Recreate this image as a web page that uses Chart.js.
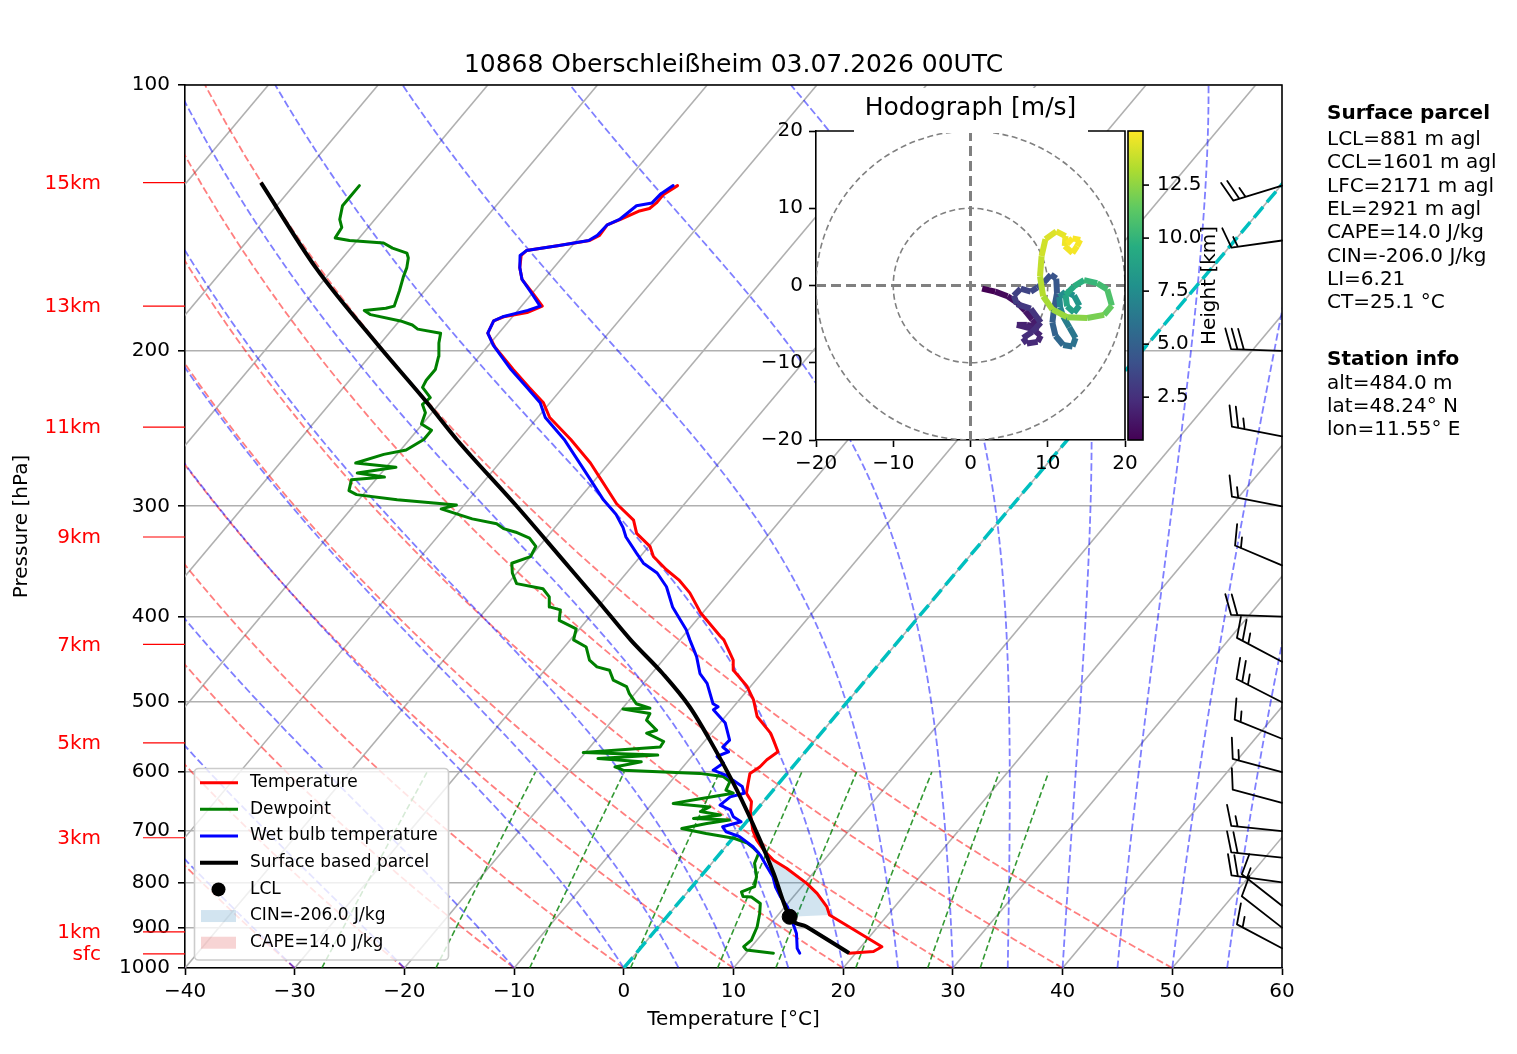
<!DOCTYPE html>
<html lang="de">
<head>
<meta charset="utf-8">
<title>10868 Oberschleißheim 03.07.2026 00UTC</title>
<script src="https://cdn.jsdelivr.net/npm/chart.js@4.4.1/dist/chart.umd.min.js"></script>
<style>
  html, body { margin: 0; padding: 0; background: #fff; }
  #page { position: relative; width: 1517px; height: 1054px; overflow: hidden; }
  #skewt { position: absolute; left: 0; top: 0; }
  #hodo { position: absolute; left: 740px; top: 85px; }
</style>
</head>
<body>
<div id="page">
  <canvas id="skewt" width="1517" height="1054"></canvas>
  <canvas id="hodo" width="500" height="400"></canvas>
</div>
<script>
// Sounding values (pressure in hPa, temperature in °C)
const tempPressure = [962, 958, 946, 914, 871, 852, 823, 802, 771, 755, 735, 716, 698, 668, 648, 634, 618, 602, 592, 581,
  569, 552, 542, 519, 497, 480, 460, 448, 425, 421, 396, 376, 364, 354, 342, 333, 322, 311, 298, 278,
  268, 252, 238, 229, 220, 210, 198, 191, 185, 183, 181, 178, 172, 166, 161, 156, 154, 152, 150, 148,
  144, 142, 139, 138, 136, 133, 130];
const tempValues = [19.4, 21.5, 21.9, 18.9, 14.7, 13.8, 11.9, 10.2, 7.2, 5.4, 3.7, 2.3, 1.2, -0.3, -1.1, -2.2, -2.8, -3.4, -3.0, -2.9,
  -2.5, -3.8, -4.6, -7.1, -8.7, -10.3, -12.8, -13.6, -16.0, -16.6, -20.2, -22.7, -24.6, -26.6, -28.8, -29.9, -32.1, -33.4, -36.2, -39.8,
  -41.7, -45.3, -48.9, -50.6, -53.1, -55.9, -59.3, -61.0, -61.4, -60.8, -59.0, -58.1, -60.0, -62.0, -63.1, -63.9, -63.8, -61.2, -58.8, -58.3,
  -58.4, -57.6, -56.6, -55.8, -55.6, -55.6, -55.0];

const dewPressure = [962, 954, 946, 930, 898, 867, 845, 831, 830, 820, 809, 788, 761, 741, 732, 722, 713, 704, 695, 686,
  680, 677, 671, 665, 657, 651, 643, 634, 629, 615, 607, 602, 597, 592, 584, 579, 574, 570, 562, 554,
  542, 538, 524, 515, 509, 508, 502, 489, 480, 472, 460, 456, 448, 433, 425, 413, 404, 393, 390, 380,
  372, 367, 357, 348, 342, 333, 326, 321, 318, 314, 310, 306, 302, 299, 295, 291, 288, 280, 278, 275,
  271, 268, 262, 259, 252, 246, 242, 235, 230, 226, 220, 216, 210, 203, 196, 191, 189, 187, 185, 182,
  180, 179, 178, 171, 165, 161, 157, 155, 153, 151, 150, 149, 145, 142, 137, 134, 130];
const dewValues = [12.5, 9.8, 9.3, 9.5, 9.0, 8.2, 7.5, 6.2, 5.4, 4.9, 5.7, 5.1, 3.9, 3.5, 2.7, 1.7, 0.1, -2.8, -5.4, -3.5,
  -1.7, -5.1, -2.9, -5.0, -4.5, -8.1, -6.0, -3.4, -4.3, -4.6, -5.6, -8.0, -15.2, -16.2, -14.2, -18.4, -13.2, -20.2, -13.6, -13.7,
  -15.9, -15.2, -16.9, -17.1, -19.9, -17.5, -19.1, -20.5, -21.3, -23.0, -24.1, -25.5, -26.7, -28.0, -29.7, -30.3, -32.5, -33.2, -34.4, -35.2,
  -36.4, -39.2, -40.4, -41.2, -40.0, -40.3, -41.5, -43.2, -44.6, -45.6, -48.2, -50.0, -51.8, -50.7, -56.5, -60.6, -61.6, -62.2, -59.4, -62.2,
  -59.1, -63.1, -61.2, -59.5, -58.7, -58.7, -60.1, -60.6, -61.5, -61.3, -62.8, -63.0, -63.0, -63.7, -64.7, -65.3, -67.7, -68.5, -69.9, -73.1,
  -74.0, -72.2, -71.6, -72.3, -73.0, -73.4, -74.0, -74.5, -76.2, -77.4, -80.7, -82.2, -82.4, -83.2, -84.0, -84.0, -84.0];

const wetBulbPressure = [962, 950, 914, 890, 852, 830, 809, 788, 768, 745, 729, 710, 701, 692, 683, 674, 662, 654, 640, 634,
  623, 613, 605, 597, 586, 576, 569, 562, 552, 528, 510, 506, 502, 476, 464, 444, 425, 414, 390, 370,
  357, 348, 339, 325, 317, 306, 295, 280, 271, 252, 238, 229, 220, 210, 197, 191, 185, 183, 180, 178,
  172, 166, 161, 156, 154, 152, 150, 148, 144, 142, 137, 136, 133, 130];
const wetBulbValues = [14.9, 14.3, 13.1, 12.0, 10.2, 8.8, 7.6, 6.6, 5.3, 3.8, 2.5, 0.5, -1.1, -1.8, -0.5, -1.6, -2.4, -3.7, -3.4, -2.4,
  -3.1, -4.4, -5.4, -7.0, -6.6, -7.7, -7.0, -7.9, -7.8, -9.5, -11.6, -11.4, -12.1, -14.2, -15.6, -17.2, -19.1, -20.2, -23.2, -25.3,
  -27.2, -29.2, -30.6, -32.8, -33.8, -35.5, -37.7, -40.4, -42.1, -45.9, -49.3, -50.9, -53.3, -56.1, -59.6, -61.0, -61.4, -60.9, -59.1, -58.3,
  -60.1, -62.0, -63.1, -64.0, -63.8, -61.2, -58.9, -58.5, -58.4, -57.7, -57.2, -56.0, -55.9, -55.4];

const parcelPressure = [962, 898, 875, 781, 716, 629, 552, 506, 464, 425, 383, 345, 300, 252, 229, 196, 161, 129];
const parcelTemp = [19.4, 13.5, 11.2, 6.4, 2.6, -3.3, -9.6, -14.0, -19.0, -24.5, -30.6, -36.8, -45.1, -55.7, -61.2, -70.4, -81.7, -93.2];
const lclPressure = 875;
const lclTemp = 11.2;
const cinTop = 735;      // CIN shading between LCL and where parcel meets the environment
const cinBottom = 875;

// Wind barbs (direction wind comes from, speed in kt)
const barbPressure = [130, 150, 200, 250, 300, 350, 400, 450, 500, 550, 600, 650, 700, 750, 800, 850, 900, 950];
const barbDirection = [253, 262, 272, 281, 281, 293, 272, 298, 297, 292, 285, 285, 276, 276, 278, 308, 308, 298];
const barbSpeed = [25, 15, 30, 25, 15, 15, 20, 25, 25, 15, 15, 10, 15, 20, 20, 15, 10, 15];

// Hodograph (height in km, wind components in m/s)
const hodoHeight = [0.48, 0.8, 1.0, 1.2, 1.4, 1.6, 1.7, 1.8, 1.9, 2.0, 2.1, 2.2, 2.3, 2.4, 2.5, 2.7, 2.9, 3.1, 3.3, 3.5,
  3.7, 3.9, 4.1, 4.3, 4.5, 4.7, 4.9, 5.1, 5.4, 5.7, 6.0, 6.3, 6.6, 6.9, 7.2, 7.5, 7.8, 8.1, 8.4, 8.7,
  9.0, 9.3, 9.7, 10.1, 10.5, 10.9, 11.5, 12.0, 12.4, 12.8, 13.1, 13.4, 13.7, 14.0, 14.3, 14.5, 14.7, 14.8, 14.85, 14.9,
  14.95, 15.0, 15.05];
const hodoU = [1.5, 3.2, 4.8, 6.0, 7.1, 8.0, 8.9, 7.3, 6.0, 8.0, 9.1, 8.7, 7.3, 6.8, 8.0, 9.1, 7.8, 6.0, 5.6, 6.5,
  7.8, 8.6, 9.5, 10.4, 11.1, 11.2, 10.8, 10.6, 11.0, 12.0, 13.2, 13.6, 12.8, 12.0, 11.6, 11.5, 12.3, 13.4, 14.1, 13.4,
  12.5, 12.3, 13.4, 14.7, 16.4, 17.7, 18.3, 17.3, 15.1, 12.5, 10.6, 9.4, 9.0, 9.2, 9.7, 11.1, 12.3, 12.2, 13.2, 13.8,
  14.2, 13.2, 12.5];
const hodoV = [-0.4, -0.8, -1.4, -2.2, -3.3, -4.4, -5.4, -5.1, -5.1, -5.6, -6.5, -7.3, -7.5, -6.8, -6.0, -4.8, -3.0, -2.4, -1.3, -0.4,
  -0.8, -0.3, 0.4, 1.4, 0.9, -1.0, -3.1, -4.8, -6.5, -7.7, -7.9, -6.8, -5.4, -4.0, -2.8, -1.5, -0.8, -1.3, -2.6, -3.5,
  -2.7, -1.2, -0.1, 0.7, 0.3, -0.5, -2.6, -3.8, -4.2, -4.1, -3.1, -1.4, 1.2, 3.8, 6.0, 7.0, 6.4, 5.1, 4.2, 5.1,
  5.9, 6.1, 5.4];

// Axes, labels and reference lines of the diagram
const pressureTicks = [100, 200, 300, 400, 500, 600, 700, 800, 900, 1000];
const heightLabels = ['sfc', '1km', '3km', '5km', '7km', '9km', '11km', '13km', '15km'];
const heightPressure = [964, 910, 712, 556, 430, 325, 244, 178, 129];
const isotherms = [-100, -90, -80, -70, -60, -50, -40, -30, -20, -10, 0, 10, 20, 30, 40, 50, 60];
const dryAdiabatT0 = [-40, -30, -20, -10, 0, 10, 20, 30, 40, 50];
const moistAdiabatT0 = [-40, -30, -20, -10, 0, 5, 10, 15, 20, 25, 30, 35, 40, 45, 50, 55, 60];
const mixingRatios = [0.0004, 0.001, 0.002, 0.004, 0.007, 0.01, 0.016, 0.024, 0.032];
const colorbarTicks = [2.5, 5.0, 7.5, 10.0, 12.5];

const chartTitle = '10868 Oberschleißheim 03.07.2026 00UTC';
const parcelInfo = ['LCL=881 m agl', 'CCL=1601 m agl', 'LFC=2171 m agl', 'EL=2921 m agl',
  'CAPE=14.0 J/kg', 'CIN=-206.0 J/kg', 'LI=6.21', 'CT=25.1 °C'];
const stationInfo = ['alt=484.0 m', 'lat=48.24° N', 'lon=11.55° E'];

const FONT = '"DejaVu Sans", sans-serif';
Chart.defaults.font.family = FONT;
Chart.defaults.font.size = 20;
Chart.defaults.color = '#000';

// skew: isotherms lean 67.6 °C to the right per decade of pressure
const SKEW = 67.6;
const skewX = (t, p) => t + SKEW * Math.log10(1000 / p);
const profile = (ps, ts) => ps.map((p, i) => ({ x: skewX(ts[i], p), y: p }));
const minusLabel = v => (v < 0 ? '\u2212' + Math.abs(v) : String(v));

// thermodynamics for the background adiabats / mixing lines
const Rd = 287.04749, Cp = 1004.6662, Lv = 2.50084e6, EPS = 0.622, KAPPA = Rd / Cp;
function satVapor(tk) {
  const tc = tk - 273.15;
  return 6.112 * Math.exp(17.67 * tc / (tc + 243.5));
}
function moistSlope(p, tk) {
  const es = satVapor(tk), rs = EPS * es / (p - es);
  return (Rd * tk + Lv * rs) / (Cp + Lv * Lv * rs * EPS / (Rd * tk * tk)) / p;
}
function dryAdiabat(t0) {
  const pts = [];
  for (let p = 1000; p >= 100; p -= 10) pts.push([(t0 + 273.15) * Math.pow(p / 1000, KAPPA) - 273.15, p]);
  return pts;
}
function moistAdiabat(t0) {
  const pts = [[t0, 1000]];
  let p = 1000, tk = t0 + 273.15;
  const dp = -5;
  while (p > 100) {
    const k1 = moistSlope(p, tk);
    const k2 = moistSlope(p + dp / 2, tk + dp / 2 * k1);
    const k3 = moistSlope(p + dp / 2, tk + dp / 2 * k2);
    const k4 = moistSlope(p + dp, tk + dp * k3);
    tk += dp / 6 * (k1 + 2 * k2 + 2 * k3 + k4);
    p += dp;
    pts.push([tk - 273.15, p]);
  }
  return pts;
}
function mixingLine(w) {
  const pts = [];
  for (let p = 1000; p >= 600; p -= 10) {
    const v = Math.log(w * p / (EPS + w) / 6.112);
    pts.push([243.5 * v / (17.67 - v), p]);
  }
  return pts;
}
function strokeCurve(ctx, xs, ys, pts) {
  ctx.beginPath();
  pts.forEach(([t, p], i) => {
    const X = xs.getPixelForValue(skewX(t, p)), Y = ys.getPixelForValue(p);
    if (i) ctx.lineTo(X, Y); else ctx.moveTo(X, Y);
  });
  ctx.stroke();
}

// CIN area: parcel side going up, environment side coming back down
const cinPolygon = [];
parcelPressure.forEach((p, i) => {
  if (p <= cinBottom && p >= cinTop) cinPolygon.push({ x: skewX(parcelTemp[i], p), y: p });
});
tempPressure.map((p, i) => [p, tempValues[i]]).filter(([p]) => p <= cinBottom && p >= cinTop).reverse()
  .forEach(([p, t]) => cinPolygon.push({ x: skewX(t, p), y: p }));

function drawBarb(ctx, x0, y0, dirDeg, speed) {
  const len = 51, barbLen = 20.4, step = 6.4, lean = 6.4;
  const a = dirDeg * Math.PI / 180;
  const sx = Math.sin(a), sy = -Math.cos(a);
  const nx = -sy, ny = sx;
  const tipX = x0 + len * sx, tipY = y0 + len * sy;
  ctx.beginPath();
  ctx.moveTo(x0, y0);
  ctx.lineTo(tipX, tipY);
  let rest = Math.round(speed / 5) * 5;
  let d = 0;
  while (rest >= 10) {
    const bx = tipX - d * sx, by = tipY - d * sy;
    ctx.moveTo(bx, by);
    ctx.lineTo(bx + barbLen * nx + lean * sx, by + barbLen * ny + lean * sy);
    d += step;
    rest -= 10;
  }
  if (rest >= 5) {
    if (d === 0) d = step;
    const bx = tipX - d * sx, by = tipY - d * sy;
    ctx.moveTo(bx, by);
    ctx.lineTo(bx + barbLen / 2 * nx + lean / 2 * sx, by + barbLen / 2 * ny + lean / 2 * sy);
  }
  ctx.stroke();
}

const legendItems = [
  { text: 'Temperature', kind: 'line', color: 'red', width: 3 },
  { text: 'Dewpoint', kind: 'line', color: 'green', width: 3 },
  { text: 'Wet bulb temperature', kind: 'line', color: 'blue', width: 3 },
  { text: 'Surface based parcel', kind: 'line', color: 'black', width: 4 },
  { text: 'LCL', kind: 'dot', color: 'black' },
  { text: 'CIN=-206.0 J/kg', kind: 'patch', color: 'rgba(31,119,180,0.2)' },
  { text: 'CAPE=14.0 J/kg', kind: 'patch', color: 'rgba(214,39,40,0.2)' }
];

const diagramLines = {
  id: 'diagramLines',
  beforeDatasetsDraw(chart) {
    const { ctx, chartArea: a, scales: { x, y } } = chart;
    ctx.save();
    ctx.beginPath();
    ctx.rect(a.left, a.top, a.right - a.left, a.bottom - a.top);
    ctx.clip();
    ctx.lineWidth = 1.6;
    ctx.strokeStyle = '#b0b0b0';
    isotherms.forEach(t => strokeCurve(ctx, x, y, [[t, 1000], [t, 100]]));
    ctx.lineWidth = 1.8;
    ctx.setLineDash([7.4, 3.2]);
    ctx.strokeStyle = 'rgba(255,0,0,0.5)';
    dryAdiabatT0.forEach(t0 => strokeCurve(ctx, x, y, dryAdiabat(t0)));
    ctx.strokeStyle = 'rgba(0,0,255,0.5)';
    moistAdiabatT0.forEach(t0 => strokeCurve(ctx, x, y, moistAdiabat(t0)));
    ctx.lineWidth = 1.6;
    ctx.setLineDash([6, 3]);
    ctx.strokeStyle = 'rgba(0,128,0,0.8)';
    mixingRatios.forEach(w => strokeCurve(ctx, x, y, mixingLine(w)));
    ctx.restore();
  }
};

const annotations = {
  id: 'annotations',
  afterDatasetsDraw(chart) {
    const { ctx, chartArea: a, scales: { y } } = chart;
    ctx.save();
    ctx.strokeStyle = '#000';
    ctx.lineWidth = 1.8;
    ctx.lineCap = 'round';
    barbPressure.forEach((p, i) => drawBarb(ctx, a.right, y.getPixelForValue(p), barbDirection[i], barbSpeed[i]));
    ctx.restore();
  },
  afterDraw(chart) {
    const { ctx, chartArea: a, scales: { y } } = chart;
    ctx.save();
    // top and right spines
    ctx.strokeStyle = '#000';
    ctx.lineWidth = 1.6;
    ctx.beginPath();
    ctx.moveTo(a.left, a.top);
    ctx.lineTo(a.right, a.top);
    ctx.lineTo(a.right, a.bottom);
    ctx.stroke();

    // legend
    ctx.fillStyle = 'rgba(255,255,255,0.8)';
    ctx.strokeStyle = '#cccccc';
    ctx.lineWidth = 1.6;
    ctx.beginPath();
    ctx.roundRect(194.5, 768.5, 254, 191.5, 4);
    ctx.fill();
    ctx.stroke();
    ctx.font = '17px ' + FONT;
    ctx.textBaseline = 'middle';
    ctx.textAlign = 'left';
    legendItems.forEach((it, i) => {
      const ry = 782.7 + i * 26.67;
      if (it.kind === 'line') {
        ctx.strokeStyle = it.color;
        ctx.lineWidth = it.width;
        ctx.beginPath();
        ctx.moveTo(200, ry);
        ctx.lineTo(238, ry);
        ctx.stroke();
      } else if (it.kind === 'dot') {
        ctx.fillStyle = it.color;
        ctx.beginPath();
        ctx.arc(218.5, ry, 7, 0, Math.PI * 2);
        ctx.fill();
      } else {
        ctx.fillStyle = it.color;
        ctx.fillRect(201, ry - 6, 35, 12);
      }
      ctx.fillStyle = '#000';
      ctx.fillText(it.text, 250, ry);
    });

    // title
    ctx.font = '25px ' + FONT;
    ctx.textAlign = 'center';
    ctx.fillText(chartTitle, (a.left + a.right) / 2, 65.5);

    // heights on the left
    ctx.font = '20px ' + FONT;
    ctx.textAlign = 'right';
    ctx.fillStyle = 'red';
    ctx.strokeStyle = 'red';
    ctx.lineWidth = 1.2;
    heightLabels.forEach((lab, i) => {
      const py = y.getPixelForValue(heightPressure[i]);
      ctx.fillText(lab, 101, py + 1);
      ctx.beginPath();
      ctx.moveTo(143, py);
      ctx.lineTo(a.left, py);
      ctx.stroke();
    });

    // parcel and station info
    ctx.fillStyle = '#000';
    ctx.textAlign = 'left';
    ctx.font = 'bold 20px ' + FONT;
    ctx.fillText('Surface parcel', 1327, 114);
    ctx.fillText('Station info', 1327, 360);
    ctx.font = '20px ' + FONT;
    parcelInfo.forEach((s, i) => ctx.fillText(s, 1327, 139.8 + i * 23.3));
    stationInfo.forEach((s, i) => ctx.fillText(s, 1327, 383.3 + i * 23.3));
    ctx.restore();
  }
};

new Chart(document.getElementById('skewt'), {
  type: 'scatter',
  data: {
    datasets: [
      { label: 'CIN', data: cinPolygon, showLine: true, fill: 'shape', backgroundColor: 'rgba(31,119,180,0.2)',
        borderWidth: 0, pointRadius: 0, order: 9 },
      { label: '0 °C', data: profile([1000, 100], [0, 0]), showLine: true, borderColor: '#00bfbf', borderWidth: 3.5,
        borderDash: [14, 6], pointRadius: 0, order: 8 },
      { label: 'Temperature', data: profile(tempPressure, tempValues), showLine: true, borderColor: 'red', borderWidth: 3,
        borderJoinStyle: 'round', borderCapStyle: 'round', pointRadius: 0, order: 4 },
      { label: 'Dewpoint', data: profile(dewPressure, dewValues), showLine: true, borderColor: 'green', borderWidth: 3,
        borderJoinStyle: 'round', borderCapStyle: 'round', pointRadius: 0, order: 3 },
      { label: 'Wet bulb temperature', data: profile(wetBulbPressure, wetBulbValues), showLine: true, borderColor: 'blue',
        borderWidth: 3, borderJoinStyle: 'round', borderCapStyle: 'round', pointRadius: 0, order: 2 },
      { label: 'Surface based parcel', data: profile(parcelPressure, parcelTemp), showLine: true, borderColor: 'black',
        borderWidth: 4, borderJoinStyle: 'round', cubicInterpolationMode: 'monotone', pointRadius: 0, order: 1 },
      { label: 'LCL', data: profile([lclPressure], [lclTemp]), showLine: false, pointRadius: 7.5,
        backgroundColor: 'black', borderColor: 'black', order: 0 }
    ]
  },
  options: {
    responsive: false,
    animation: false,
    events: [],
    layout: { padding: { top: 85, right: 235, bottom: 0, left: 0 }, autoPadding: false },
    plugins: { legend: { display: false }, tooltip: { enabled: false } },
    scales: {
      x: {
        type: 'linear', min: -40, max: 60,
        ticks: { stepSize: 10, padding: 5, maxRotation: 0, autoSkip: false, callback: v => minusLabel(v) },
        grid: { drawOnChartArea: false, tickColor: '#000', tickLength: 7, tickWidth: 1.6 },
        border: { color: '#000', width: 1.6 },
        title: { display: true, text: 'Temperature [°C]', padding: { top: 0, bottom: 22 } },
        afterFit: s => { s.height = 86; }
      },
      y: {
        type: 'logarithmic', min: 100, max: 1000, reverse: true,
        afterBuildTicks: s => { s.ticks = pressureTicks.map(v => ({ value: v })); },
        ticks: { padding: 8, autoSkip: false, callback: v => String(v) },
        grid: { color: '#b0b0b0', lineWidth: 1.6, tickColor: '#000', tickLength: 7, tickWidth: 1.6 },
        border: { color: '#000', width: 1.6 },
        title: { display: true, text: 'Pressure [hPa]', padding: { top: 10, bottom: 0 } },
        afterFit: s => { s.width = 185; }
      }
    }
  },
  plugins: [diagramLines, annotations]
});

// ---- hodograph inset ----
const viridisStops = [[0, 68, 1, 84], [0.125, 71, 44, 122], [0.25, 59, 81, 139], [0.375, 44, 113, 142],
  [0.5, 33, 145, 140], [0.625, 39, 173, 129], [0.75, 94, 201, 98], [0.875, 173, 220, 48], [1, 253, 231, 37]];
const hMin = Math.min(...hodoHeight), hMax = Math.max(...hodoHeight);
function viridis(f) {
  f = Math.max(0, Math.min(1, f));
  for (let i = 1; i < viridisStops.length; i++) {
    const a = viridisStops[i - 1], b = viridisStops[i];
    if (f <= b[0]) {
      const k = (f - a[0]) / (b[0] - a[0]);
      return `rgb(${Math.round(a[1] + k * (b[1] - a[1]))},${Math.round(a[2] + k * (b[2] - a[2]))},${Math.round(a[3] + k * (b[3] - a[3]))})`;
    }
  }
  return 'rgb(253,231,37)';
}
const heightColor = z => viridis((z - hMin) / (hMax - hMin));

const hodoDecor = {
  id: 'hodoDecor',
  beforeDraw(chart) {
    const { ctx, chartArea: a } = chart;
    ctx.save();
    ctx.fillStyle = '#fff';
    ctx.fillRect(a.left, a.top, a.right - a.left, a.bottom - a.top);
    ctx.restore();
  },
  beforeDatasetsDraw(chart) {
    const { ctx, chartArea: a, scales: { x, y } } = chart;
    const cx = x.getPixelForValue(0), cy = y.getPixelForValue(0);
    ctx.save();
    ctx.beginPath();
    ctx.rect(a.left, a.top, a.right - a.left, a.bottom - a.top);
    ctx.clip();
    ctx.strokeStyle = '#808080';
    ctx.lineWidth = 1.6;
    ctx.setLineDash([6, 3.5]);
    [10, 20, 30].forEach(r => {
      ctx.beginPath();
      ctx.arc(cx, cy, x.getPixelForValue(r) - cx, 0, Math.PI * 2);
      ctx.stroke();
    });
    ctx.lineWidth = 3;
    ctx.setLineDash([10, 5]);
    ctx.beginPath();
    ctx.moveTo(a.left, cy); ctx.lineTo(a.right, cy);
    ctx.moveTo(cx, a.top); ctx.lineTo(cx, a.bottom);
    ctx.stroke();
    ctx.restore();
  },
  afterDraw(chart) {
    const { ctx, chartArea: a, scales: { cb } } = chart;
    ctx.save();
    ctx.strokeStyle = '#000';
    ctx.lineWidth = 1.6;
    ctx.beginPath();
    ctx.moveTo(a.left, a.top); ctx.lineTo(a.right, a.top); ctx.lineTo(a.right, a.bottom);
    ctx.stroke();
    // title with white box
    ctx.fillStyle = '#fff';
    ctx.fillRect(114, 3, 234, 45);
    ctx.fillStyle = '#000';
    ctx.font = '25px ' + FONT;
    ctx.textAlign = 'center';
    ctx.textBaseline = 'middle';
    ctx.fillText('Hodograph [m/s]', (a.left + a.right) / 2, 23);
    // colorbar
    const yTop = cb.getPixelForValue(hMax), yBot = cb.getPixelForValue(hMin);
    const x0 = a.right + 3, w = 15;
    const grad = ctx.createLinearGradient(0, yBot, 0, yTop);
    viridisStops.forEach(s => grad.addColorStop(s[0], `rgb(${s[1]},${s[2]},${s[3]})`));
    ctx.fillStyle = grad;
    ctx.fillRect(x0, yTop, w, yBot - yTop);
    ctx.strokeRect(x0, yTop, w, yBot - yTop);
    ctx.font = '20px ' + FONT;
    ctx.textAlign = 'left';
    ctx.fillStyle = '#000';
    colorbarTicks.forEach(v => {
      const py = cb.getPixelForValue(v);
      ctx.beginPath();
      ctx.moveTo(x0 + w, py); ctx.lineTo(x0 + w + 6, py);
      ctx.stroke();
      ctx.fillText(v.toFixed(1), x0 + w + 14, py);
    });
    ctx.translate(470, (yTop + yBot) / 2);
    ctx.rotate(-Math.PI / 2);
    ctx.textAlign = 'center';
    ctx.fillText('Height [km]', 0, 0);
    ctx.restore();
  }
};

new Chart(document.getElementById('hodo'), {
  type: 'scatter',
  data: {
    datasets: [{
      label: 'Hodograph',
      data: hodoU.map((u, i) => ({ x: u, y: hodoV[i] })),
      showLine: true,
      pointRadius: 0,
      borderWidth: 6,
      borderCapStyle: 'butt',
      borderColor: heightColor(hMin),
      segment: { borderColor: c => heightColor(hodoHeight[c.p0DataIndex]) }
    }]
  },
  options: {
    responsive: false,
    animation: false,
    events: [],
    layout: { padding: { top: 46, right: 115, bottom: 0, left: 0 }, autoPadding: false },
    plugins: { legend: { display: false }, tooltip: { enabled: false } },
    scales: {
      x: {
        type: 'linear', min: -20, max: 20,
        ticks: { stepSize: 10, padding: 5, maxRotation: 0, callback: v => minusLabel(v) },
        grid: { drawOnChartArea: false, tickColor: '#000', tickLength: 7, tickWidth: 1.6 },
        border: { color: '#000', width: 1.6 },
        afterFit: s => { s.height = 45; }
      },
      y: {
        type: 'linear', min: -20, max: 20,
        ticks: { stepSize: 10, padding: 6, callback: v => minusLabel(v) },
        grid: { drawOnChartArea: false, tickColor: '#000', tickLength: 7, tickWidth: 1.6 },
        border: { color: '#000', width: 1.6 },
        afterFit: s => { s.width = 76; }
      },
      cb: { type: 'linear', position: 'right', display: false, min: hMin, max: hMax }
    }
  },
  plugins: [hodoDecor]
});
</script>
</body>
</html>
